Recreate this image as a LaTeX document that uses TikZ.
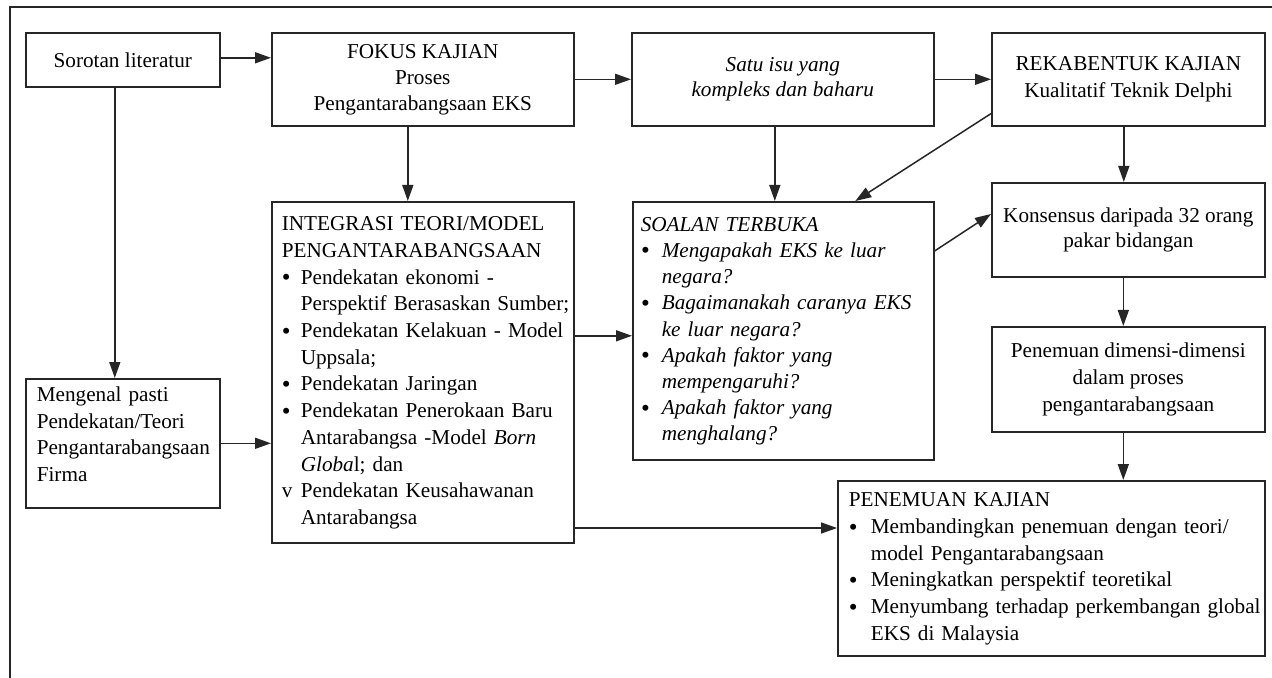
\documentclass[tikz,border=0pt]{standalone}
\usepackage{fontspec}
\setmainfont{Liberation Serif}
\newcommand\bul{\raisebox{-0.15ex}{\fontsize{12.5}{12.5}\selectfont\textbullet}}
\usetikzlibrary{arrows.meta}
\begin{document}
\begin{tikzpicture}[x=0.5pt,y=-0.5pt,
  box/.style={draw=black!85, line width=0.8pt, anchor=north west, inner sep=0pt, font=\fontsize{10.6}{13.35}\selectfont},
  lbox/.style={box, align=left},
  cbox/.style={box, align=center},
  arr/.style={draw=black!85, line width=0.75pt, -{Triangle[length=8pt,width=5.5pt]}},
  frameline/.style={draw=black!85, line width=0.7pt}]
\useasboundingbox (0,0) rectangle (1272,678);
\draw[frameline] (10,678) -- (10,7) -- (1272,7);

\node[cbox, minimum width=97pt, minimum height=27pt] (sor) at (25,32) {Sorotan literatur};
\node[cbox, minimum width=151pt, minimum height=46.5pt, font=\fontsize{10.6}{13}\selectfont] (fokus) at (271,32) {FOKUS KAJIAN\\Proses\\Pengantarabangsaan EKS};
\node[cbox, minimum width=151pt, minimum height=46.5pt, font=\itshape\fontsize{10.6}{12.5}\selectfont] (satu) at (631,32) {Satu isu yang\\kompleks dan baharu};
\node[cbox, minimum width=136.5pt, minimum height=46.5pt, font=\fontsize{10.6}{13.5}\selectfont] (reka) at (991,32) {REKABENTUK KAJIAN\\Kualitatif Teknik Delphi};

\node[lbox, inner xsep=5.5pt, text width=86pt, minimum width=97pt, minimum height=64.5pt] (meng) at (25,378) {\begin{tabular}{@{}l@{}}
Mengenal pasti\\
Pendekatan/Teori\\
Pengantarabangsaan\\
Firma\\[7pt]
\end{tabular}};

\node[lbox, inner xsep=5pt, text width=141pt, minimum width=151pt, minimum height=170.5pt] (integ) at (271,201) {\begin{tabular}{@{}p{9.5pt}@{}l@{}}
\multicolumn{2}{@{}l@{}}{INTEGRASI TEORI/MODEL}\\
\multicolumn{2}{@{}l@{}}{PENGANTARABANGSAAN}\\
\bul & Pendekatan ekonomi -\\
& Perspektif Berasaskan Sumber;\\
\bul & Pendekatan Kelakuan - Model\\
& Uppsala;\\
\bul & Pendekatan Jaringan\\
\bul & Pendekatan Penerokaan Baru\\
& Antarabangsa -Model \textit{Born}\\
& \textit{Globa}l; dan\\
v & Pendekatan Keusahawanan\\
& Antarabangsa
\end{tabular}};

\node[lbox, inner xsep=4pt, text width=142.5pt, minimum width=150.5pt, minimum height=129pt, font=\itshape\fontsize{10.6}{13.1}\selectfont] (soalan) at (632,201) {\begin{tabular}{@{}p{10.5pt}@{}l@{}}
\multicolumn{2}{@{}l@{}}{SOALAN TERBUKA}\\
\bul & Mengapakah EKS ke luar\\
& negara?\\
\bul & Bagaimanakah caranya EKS\\
& ke luar negara?\\
\bul & Apakah faktor yang\\
& mempengaruhi?\\
\bul & Apakah faktor yang\\
& menghalang?
\end{tabular}};

\node[cbox, minimum width=136.5pt, minimum height=47pt, font=\fontsize{10.6}{12.5}\selectfont] (kons) at (991,182) {Konsensus daripada 32 orang\\pakar bidangan};
\node[cbox, minimum width=136.5pt, minimum height=52.5pt] (pen) at (991,326) {Penemuan dimensi-dimensi\\dalam proses\\pengantarabangsaan};

\node[lbox, inner xsep=5.5pt, text width=202.5pt, minimum width=213.5pt, minimum height=87.5pt] (kajian) at (837,480) {\begin{tabular}{@{}p{11pt}@{}l@{}}
\multicolumn{2}{@{}l@{}}{PENEMUAN KAJIAN}\\
\bul & Membandingkan penemuan dengan teori/\\
& model Pengantarabangsaan\\
\bul & Meningkatkan perspektif teoretikal\\
\bul & Menyumbang terhadap perkembangan global\\
& EKS di Malaysia
\end{tabular}};

% connectors
\draw[arr] ([yshift=1pt]sor.east) -- ([yshift=1pt]sor.east -| fokus.west);
\draw[arr] (fokus) -- (satu);
\draw[arr] (satu) -- (reka);
\draw[arr] ([xshift=-4pt]sor.south) -- ([xshift=-4pt]meng.north);
\draw[arr] ([xshift=-7.5pt]fokus.south) -- ([xshift=-7.5pt]integ.north);
\draw[arr] ([xshift=-4pt]satu.south) -- ([xshift=-4.25pt]soalan.north);
\draw[arr] ([yshift=6.5pt]reka.south west) -- ([xshift=36pt]soalan.north);
\draw[arr] ([xshift=-2.25pt]reka.south) -- ([xshift=-2.25pt]kons.north);
\draw[arr] ([yshift=-25pt]soalan.north east) -- ([yshift=-16pt]kons.north west);
\draw[arr] ([xshift=-2.5pt]kons.south) -- ([xshift=-2.5pt]pen.north);
\draw[arr] ([xshift=-2.5pt]pen.south) -- ([xshift=-2.5pt]pen.south |- kajian.north);
\draw[arr] (meng.east) -- (meng.east -| integ.west);
\draw[arr] ([yshift=18.25pt]integ.east) -- ([yshift=18.25pt]integ.east -| soalan.west);
\coordinate (k1) at ([yshift=-24pt]kajian.north west);
\draw[arr] (integ.east |- k1) -- (k1);
\end{tikzpicture}
\end{document}
